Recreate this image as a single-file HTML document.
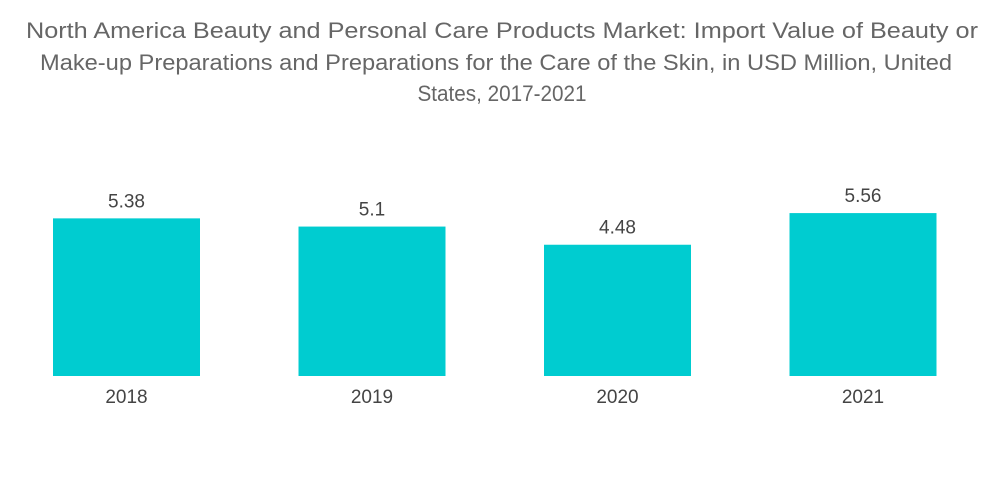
<!DOCTYPE html>
<html><head><meta charset="utf-8"><style>
html,body{margin:0;padding:0;background:#fff;}
svg{display:block;font-family:"Liberation Sans",sans-serif;}
</style></head><body>
<svg id="chart" width="1000" height="504">
<g fill="#666" font-size="22" text-anchor="middle">
<text x="502" y="38" textLength="952" lengthAdjust="spacingAndGlyphs">North America Beauty and Personal Care Products Market: Import Value of Beauty or</text>
<text x="496" y="70" textLength="912" lengthAdjust="spacingAndGlyphs">Make-up Preparations and Preparations for the Care of the Skin, in USD Million, United</text>
<text x="502" y="101" textLength="169" lengthAdjust="spacingAndGlyphs">States, 2017-2021</text>
</g>
<g id="bars"></g>
</svg>
<script>
const categories = ["2018","2019","2020","2021"];
const values = [5.38, 5.1, 4.48, 5.56];
const valueLabels = ["5.38","5.1","4.48","5.56"];
const NS="http://www.w3.org/2000/svg";
const baseY=376, scale=29.3, x0=53, step=245.5, bw=147;
function xPos(i){return x0+i*step;}
function yPos(v){return baseY-v*scale;}
const g=document.getElementById('bars');
categories.forEach((c,i)=>{
  const r=document.createElementNS(NS,'rect');
  
  
  r.setAttribute('x',xPos(i));r.setAttribute('y',yPos(values[i]));
  r.setAttribute('width',bw);r.setAttribute('height',baseY-yPos(values[i]));
  r.setAttribute('fill','#00ccd0');g.appendChild(r);
  const t=document.createElementNS(NS,'text');
  
  
  t.setAttribute('x',xPos(i)+bw/2);t.setAttribute('y',yPos(values[i])-11);
  t.setAttribute('text-anchor','middle');t.setAttribute('font-size','19');t.setAttribute('fill','#444');
  t.textContent=valueLabels[i];g.appendChild(t);
  const l=document.createElementNS(NS,'text');
  
  
  l.setAttribute('x',xPos(i)+bw/2);l.setAttribute('y',403);
  l.setAttribute('text-anchor','middle');l.setAttribute('font-size','19');l.setAttribute('fill','#444');
  l.textContent=c;g.appendChild(l);
});
</script>
</body></html>
